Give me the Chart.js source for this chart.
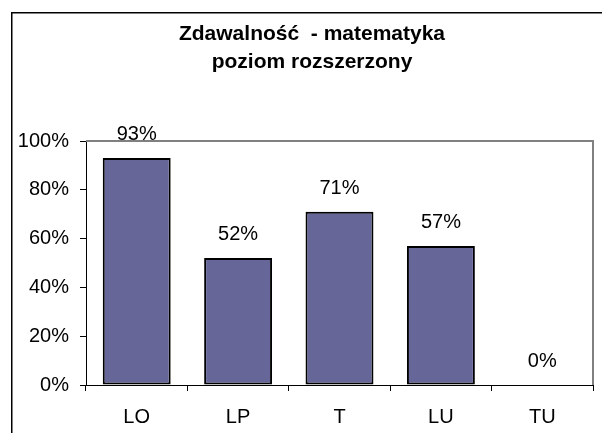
<!DOCTYPE html>
<html>
<head>
<meta charset="utf-8">
<script src="https://cdn.jsdelivr.net/npm/chart.js@4"></script>
<style>
  html, body { margin: 0; padding: 0; background: #fff; }
  #wrap { position: relative; width: 602px; height: 433px; }
</style>
</head>
<body>
<div id="wrap"><canvas id="chart" width="602" height="433"></canvas></div>
<script>
const titleLines = ["Zdawalność  - matematyka", "poziom rozszerzony"];
const categories = ["LO", "LP", "T", "LU", "TU"];
const passRates = [93, 52, 71, 57, 0];
const yTicks = [0, 20, 40, 60, 80, 100];

const FONT = "'Liberation Sans', Arial, sans-serif";

// frame, title, plot border and value labels
const decor = {
    id: "decor",
    beforeDraw(chart) {
        const ctx = chart.ctx;
        ctx.save();
        ctx.strokeStyle = "#000";
        ctx.lineWidth = 1.5;
        ctx.strokeRect(11.75, 12.75, 700, 600);
        ctx.fillStyle = "#000";
        ctx.font = "bold 21px " + FONT;
        ctx.textAlign = "center";
        ctx.textBaseline = "alphabetic";
        ctx.fillText(titleLines[0], 312, 40);
        ctx.fillText(titleLines[1], 312, 68);
        ctx.restore();
    },
    afterDatasetsDraw(chart) {
        const ctx = chart.ctx;
        const area = chart.chartArea;
        ctx.save();
        ctx.strokeStyle = "#808080";
        ctx.lineWidth = 2;
        ctx.beginPath();
        ctx.moveTo(area.left, area.top);
        ctx.lineTo(area.right, area.top);
        ctx.lineTo(area.right, area.bottom);
        ctx.stroke();

        ctx.fillStyle = "#000";
        ctx.font = "20px " + FONT;
        ctx.textAlign = "center";
        ctx.textBaseline = "alphabetic";
        const meta = chart.getDatasetMeta(0);
        meta.data.forEach((bar, i) => {
            ctx.fillText(passRates[i] + "%", bar.x, bar.y - 18);
        });
        ctx.restore();
    }
};

new Chart(document.getElementById("chart"), {
    type: "bar",
    data: {
        labels: categories,
        datasets: [{
            data: passRates,
            backgroundColor: "#666699",
            borderColor: "#000",
            borderWidth: 2,
            borderSkipped: false,
            categoryPercentage: 1,
            barPercentage: 0.67
        }]
    },
    options: {
        responsive: false,
        animation: false,
        layout: { padding: { left: 0, top: 141, right: 9, bottom: 0 } },
        plugins: {
            legend: { display: false },
            title: { display: false },
            tooltip: { enabled: false }
        },
        scales: {
            x: {
                afterFit: s => { s.height = 48; },
                grid: { drawOnChartArea: false, color: "#000", tickLength: 6, offset: true },
                border: { color: "#000", width: 1 },
                ticks: { color: "#000", font: { family: FONT, size: 20 }, padding: 14, maxRotation: 0 }
            },
            y: {
                min: 0,
                max: 100,
                afterFit: s => { s.width = 86; },
                afterBuildTicks: s => { s.ticks = yTicks.map(v => ({ value: v })); },
                grid: { drawOnChartArea: false, color: "#000", tickLength: 6 },
                border: { color: "#000", width: 1 },
                ticks: {
                    color: "#000",
                    font: { family: FONT, size: 20 },
                    padding: 11,
                    callback: v => v + "%"
                }
            }
        }
    },
    plugins: [decor]
});
</script>
</body>
</html>
